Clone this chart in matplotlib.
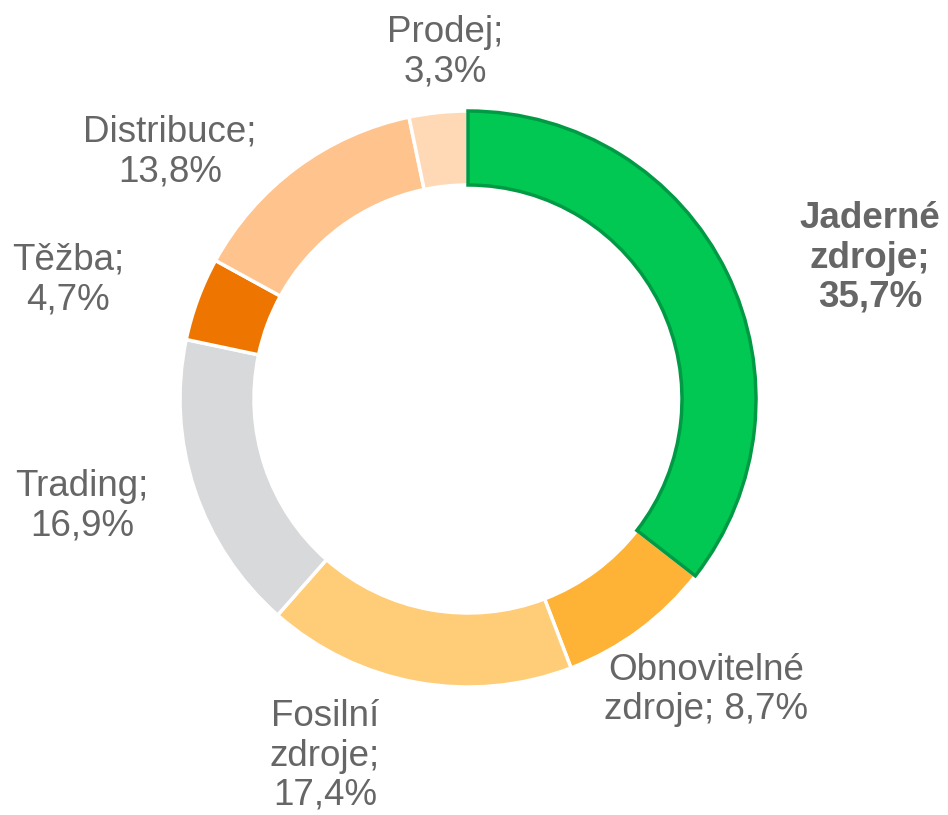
import matplotlib.pyplot as plt

# segment data, clockwise from 12 o'clock
labels = ["Jaderné\nzdroje;", "Obnovitelné\nzdroje;", "Fosilní\nzdroje;", "Trading;", "Těžba;", "Distribuce;", "Prodej;"]
values = [35.7, 8.7, 17.4, 16.9, 4.7, 13.8, 3.3]
value_texts = ["35,7%", "8,7%", "17,4%", "16,9%", "4,7%", "13,8%", "3,3%"]
colors = ["#00C853", "#FFB336", "#FFCC77", "#D8D9DB", "#EE7500", "#FFC48E", "#FFD9B5"]

W, H = 948, 815
fig = plt.figure(figsize=(W / 100, H / 100), dpi=100)
ax = fig.add_axes([0, 0, 1, 1])
plt.rcParams['font.family'] = ['Liberation Sans', 'DejaVu Sans']

cx, cy, r = 468, H - 399, 288
wedges, _ = ax.pie(values, colors=colors, startangle=90, counterclock=False,
                   center=(cx, cy), radius=r, frame=True,
                   wedgeprops=dict(width=74, edgecolor="white", linewidth=2.5))
wedges[0].set_edgecolor("#009A44")
wedges[0].set_linewidth(2.5)
wedges[0].set_zorder(5)

ax.set_xlim(0, W)
ax.set_ylim(0, H)
ax.set_aspect("equal")
ax.axis("off")

# label positions in pixel coords (x, y from top)
pos = [(870, 258), (706, 690), (325, 756), (82, 506), (68, 280), (170, 152), (445, 52)]
texts = [
    "Jaderné\nzdroje;\n35,7%",
    "Obnovitelné\nzdroje; 8,7%",
    "Fosilní\nzdroje;\n17,4%",
    "Trading;\n16,9%",
    "Těžba;\n4,7%",
    "Distribuce;\n13,8%",
    "Prodej;\n3,3%",
]
for i, (x, y) in enumerate(pos):
    ax.text(x, H - y, texts[i], ha="center", va="center", fontsize=26.5,
            color="#666666", fontweight="bold" if i == 0 else "normal",
            linespacing=1.15)

plt.savefig("out.png", dpi=100)
